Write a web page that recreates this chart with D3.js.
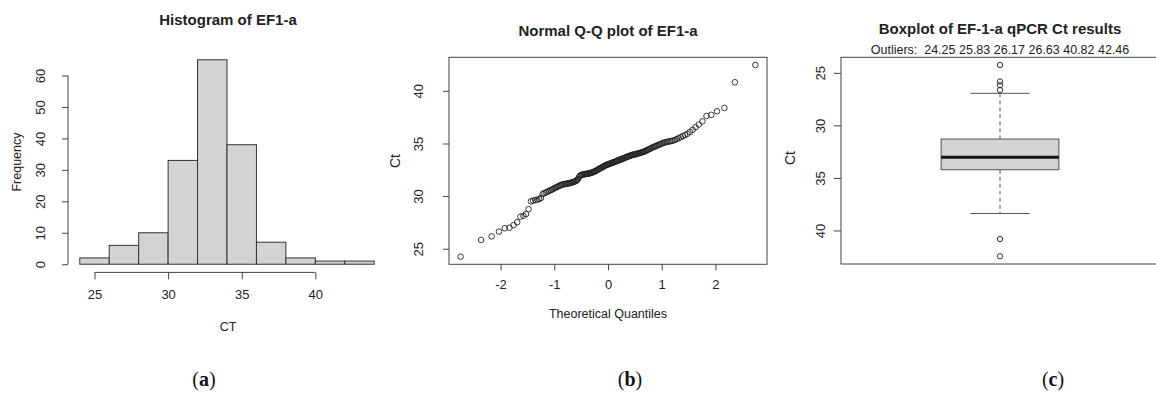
<!DOCTYPE html>
<html>
<head>
<meta charset="utf-8">
<script src="https://cdn.jsdelivr.net/npm/d3@7"></script>
<style>
  body { margin: 0; background: #fff; }
  svg { display: block; font-family: "Liberation Sans", Arial, sans-serif; }
  .tick line { stroke: #444; }
  .tick text { fill: #222; font-size: 13px; font-family: "Liberation Sans", Arial, sans-serif; }
</style>
</head>
<body>
<div id="chart"></div>
<script>
// histogram of EF1-a Ct values
const binEdges = [24, 26, 28, 30, 32, 34, 36, 38, 40, 42, 44];
const histCounts = [2, 6, 10, 33, 65, 38, 7, 2, 1, 1];

// sorted Ct values (panel b)
const ctSorted = [
  24.25, 25.83,
  26.17, 26.63, 26.95, 27.0, 27.24, 27.52,
  28.04, 28.12, 28.3, 28.76, 29.5, 29.57, 29.62, 29.66, 29.72, 29.82,
  30.2, 30.28, 30.35, 30.42, 30.5, 30.56, 30.62, 30.7, 30.76, 30.82, 30.88, 30.94,
  31.0, 31.05, 31.1, 31.12, 31.14, 31.16, 31.18, 31.2, 31.22, 31.24, 31.27, 31.3,
  31.33, 31.36, 31.4, 31.45, 31.52, 31.62, 31.78, 31.92, 31.98,
  32.02, 32.04, 32.06, 32.08, 32.09, 32.11, 32.12, 32.14, 32.15, 32.17, 32.2, 32.22,
  32.25, 32.28, 32.32, 32.35, 32.39, 32.44, 32.48, 32.53, 32.58, 32.62, 32.66, 32.71,
  32.75, 32.79, 32.84, 32.88, 32.92, 32.96, 32.99, 33.02, 33.05, 33.07, 33.1, 33.13,
  33.16, 33.19, 33.22, 33.25, 33.28, 33.32, 33.35, 33.38, 33.41, 33.44, 33.47, 33.5,
  33.53, 33.56, 33.6, 33.63, 33.66, 33.7, 33.73, 33.76, 33.8, 33.83, 33.86, 33.89,
  33.92, 33.94, 33.96, 33.97, 33.99,
  34.02, 34.06, 34.08, 34.1, 34.13, 34.16, 34.19, 34.22, 34.27, 34.32, 34.37, 34.42,
  34.47, 34.52, 34.57, 34.62, 34.67, 34.72, 34.77, 34.82, 34.87, 34.92, 34.98, 35.03,
  35.08, 35.12, 35.15, 35.18, 35.21, 35.24, 35.28, 35.34, 35.42, 35.5, 35.6, 35.7,
  35.8, 35.92,
  36.1, 36.3, 36.55, 36.8, 37.1, 37.62, 37.72,
  38.06, 38.38,
  40.82,
  42.46
];

const histXTicks = [25, 30, 35, 40];
const histYTicks = [0, 10, 20, 30, 40, 50, 60];
const qqXTicks = [-2, -1, 0, 1, 2];
const ctTicks = [25, 30, 35, 40];

const width = 1156, height = 394;
const lineCol = "#444", textCol = "#222";

const svg = d3.select("#chart").append("svg")
    .attr("width", width)
    .attr("height", height);

// inverse normal cdf (Acklam), used for the theoretical quantiles
function qnorm(p) {
    const a = [-39.69683028665376, 220.9460984245205, -275.9285104469687, 138.3577518672690, -30.66479806614716, 2.506628277459239];
    const b = [-54.47609879822406, 161.5858368580409, -155.6989798598866, 66.80131188771972, -13.28068155288572];
    const c = [-0.007784894002430293, -0.3223964580411365, -2.400758277161838, -2.549732539343734, 4.374664141464968, 2.938163982698783];
    const d = [0.007784695709041462, 0.3224671290700398, 2.445134137142996, 3.754408661907416];
    const pl = 0.02425;
    let q, r;
    if (p < pl) {
        q = Math.sqrt(-2 * Math.log(p));
        return (((((c[0]*q+c[1])*q+c[2])*q+c[3])*q+c[4])*q+c[5]) / ((((d[0]*q+d[1])*q+d[2])*q+d[3])*q+1);
    } else if (p <= 1 - pl) {
        q = p - 0.5; r = q * q;
        return (((((a[0]*r+a[1])*r+a[2])*r+a[3])*r+a[4])*r+a[5])*q / (((((b[0]*r+b[1])*r+b[2])*r+b[3])*r+b[4])*r+1);
    }
    q = Math.sqrt(-2 * Math.log(1 - p));
    return -(((((c[0]*q+c[1])*q+c[2])*q+c[3])*q+c[4])*q+c[5]) / ((((d[0]*q+d[1])*q+d[2])*q+d[3])*q+1);
}

// R style: axis line only spans the ticks, y labels rotated
function rotateYLabels(g, offset) {
    g.selectAll(".tick text")
        .attr("x", 0).attr("y", 0)
        .attr("dy", "0.35em")
        .attr("text-anchor", "middle")
        .attr("transform", `translate(${-offset},0) rotate(-90)`);
}

function addText(x, y, txt, size, weight, rotate) {
    return svg.append("text")
        .attr("transform", `translate(${x},${y})` + (rotate ? " rotate(-90)" : ""))
        .attr("text-anchor", "middle")
        .attr("dy", "0.35em")
        .attr("fill", textCol)
        .style("font-size", size + "px")
        .style("font-weight", weight || "normal")
        .text(txt);
}

// ---------- (a) histogram ----------
const hx = d3.scaleLinear().domain([23.2, 44.8]).range([68, 386]);
const hy = d3.scaleLinear().domain([-2.6, 67.6]).range([272.4, 51.6]);

svg.append("g").selectAll("rect")
    .data(histCounts)
    .join("rect")
    .attr("x", (d, i) => hx(binEdges[i]))
    .attr("y", d => hy(d))
    .attr("width", (d, i) => hx(binEdges[i + 1]) - hx(binEdges[i]))
    .attr("height", d => hy(0) - hy(d))
    .attr("fill", "#d3d3d3")
    .attr("stroke", "#333")
    .attr("stroke-width", 1);

const hxAxis = svg.append("g")
    .attr("transform", `translate(0,${hy(-2.6)})`)
    .call(d3.axisBottom(hx).tickValues(histXTicks).tickSize(7).tickPadding(10));
hxAxis.select(".domain").remove();
hxAxis.append("line")
    .attr("x1", hx(25)).attr("x2", hx(40))
    .attr("stroke", lineCol);

const hyAxis = svg.append("g")
    .attr("transform", `translate(${hx(23.2)},0)`)
    .call(d3.axisLeft(hy).tickValues(histYTicks).tickSize(6));
hyAxis.select(".domain").remove();
hyAxis.append("line")
    .attr("y1", hy(0)).attr("y2", hy(60))
    .attr("stroke", lineCol);
rotateYLabels(hyAxis, 28);

addText(228, 20, "Histogram of EF1-a", 15, "bold");
addText(17, 162, "Frequency", 12.5, "normal", true);
addText(228, 327, "CT", 12.5);

// ---------- (b) normal Q-Q plot ----------
const n = ctSorted.length;
const qqData = ctSorted.map((v, i) => ({ q: qnorm((i + 0.5) / n), ct: v }));

const qx = d3.scaleLinear().domain([-2.96, 2.96]).range([449, 767]);
const qy = d3.scaleLinear().domain([23.52, 43.19]).range([264.3, 57.3]);

svg.append("rect")
    .attr("x", 449).attr("y", qy.range()[1])
    .attr("width", 318).attr("height", qy.range()[0] - qy.range()[1])
    .attr("fill", "none").attr("stroke", lineCol);

svg.append("g").selectAll("circle")
    .data(qqData)
    .join("circle")
    .attr("cx", d => qx(d.q))
    .attr("cy", d => qy(d.ct))
    .attr("r", 2.8)
    .attr("fill", "none")
    .attr("stroke", "#222")
    .attr("stroke-width", 0.9);

const qxAxis = svg.append("g")
    .attr("transform", `translate(0,${qy.range()[0]})`)
    .call(d3.axisBottom(qx).tickValues(qqXTicks).tickSize(6).tickPadding(9)
        .tickFormat(d3.format("d")));
qxAxis.select(".domain").remove();
qxAxis.selectAll(".tick text").text(d => d < 0 ? "-" + Math.abs(d) : d);

const qyAxis = svg.append("g")
    .attr("transform", `translate(449,0)`)
    .call(d3.axisLeft(qy).tickValues(ctTicks).tickSize(6));
qyAxis.select(".domain").remove();
rotateYLabels(qyAxis, 31);

addText(608, 31, "Normal Q-Q plot of EF1-a", 15, "bold");
addText(395, 161, "Ct", 14, "normal", true);
addText(608, 314, "Theoretical Quantiles", 12.5);

// ---------- (c) boxplot ----------
// R fivenum hinges
const n4 = Math.floor((n + 3) / 2) / 2;
const at = k => 0.5 * (ctSorted[Math.floor(k) - 1] + ctSorted[Math.ceil(k) - 1]);
const lowerHinge = at(n4), med = at((n + 1) / 2), upperHinge = at(n + 1 - n4);
const iqr = upperHinge - lowerHinge;
const lowFence = lowerHinge - 1.5 * iqr, highFence = upperHinge + 1.5 * iqr;
const inside = ctSorted.filter(v => v >= lowFence && v <= highFence);
const whiskLo = d3.min(inside), whiskHi = d3.max(inside);
const outliers = ctSorted.filter(v => v < lowFence || v > highFence);

const bx = d3.scaleLinear().domain([0.46, 1.54]).range([841, 1159]);
const by = d3.scaleLinear().domain([23.52, 43.19]).range([57.3, 264]);

svg.append("rect")
    .attr("x", 841).attr("y", 57.3)
    .attr("width", 318).attr("height", 264 - 57.3)
    .attr("fill", "none").attr("stroke", lineCol);

const boxG = svg.append("g");
// dashed whiskers
[[whiskLo, lowerHinge], [upperHinge, whiskHi]].forEach(w => {
    boxG.append("line")
        .attr("x1", bx(1)).attr("x2", bx(1))
        .attr("y1", by(w[0])).attr("y2", by(w[1]))
        .attr("stroke", "#555").attr("stroke-dasharray", "4,3");
});
[whiskLo, whiskHi].forEach(v => {
    boxG.append("line")
        .attr("x1", bx(0.9)).attr("x2", bx(1.1))
        .attr("y1", by(v)).attr("y2", by(v))
        .attr("stroke", "#555");
});
boxG.append("rect")
    .attr("x", bx(0.8)).attr("y", by(lowerHinge))
    .attr("width", bx(1.2) - bx(0.8))
    .attr("height", by(upperHinge) - by(lowerHinge))
    .attr("fill", "#d3d3d3").attr("stroke", "#555");
boxG.append("line")
    .attr("x1", bx(0.8)).attr("x2", bx(1.2))
    .attr("y1", by(med)).attr("y2", by(med))
    .attr("stroke", "#111").attr("stroke-width", 3);
boxG.selectAll("circle")
    .data(outliers)
    .join("circle")
    .attr("cx", bx(1))
    .attr("cy", d => by(d))
    .attr("r", 2.7)
    .attr("fill", "none")
    .attr("stroke", "#333");

const byAxis = svg.append("g")
    .attr("transform", `translate(841,0)`)
    .call(d3.axisLeft(by).tickValues(ctTicks).tickSize(7));
byAxis.select(".domain").remove();
rotateYLabels(byAxis, 21);

addText(1000, 29, "Boxplot of EF-1-a qPCR Ct results", 15, "bold");
addText(1000, 50, "Outliers:\u00a0 " + outliers.map(v => v.toFixed(2)).join(" "), 12.5);
addText(790, 158, "Ct", 14, "normal", true);

// ---------- panel captions ----------
[["a", 204], ["b", 630], ["c", 1053]].forEach(([l, x]) => {
    const t = svg.append("text")
        .attr("x", x).attr("y", 386)
        .attr("text-anchor", "middle")
        .attr("fill", "#111")
        .style("font-family", "'Liberation Serif', 'DejaVu Serif', serif")
        .style("font-size", "20px");
    t.append("tspan").text("(");
    t.append("tspan").style("font-weight", "bold").text(l);
    t.append("tspan").text(")");
});
</script>
</body>
</html>
